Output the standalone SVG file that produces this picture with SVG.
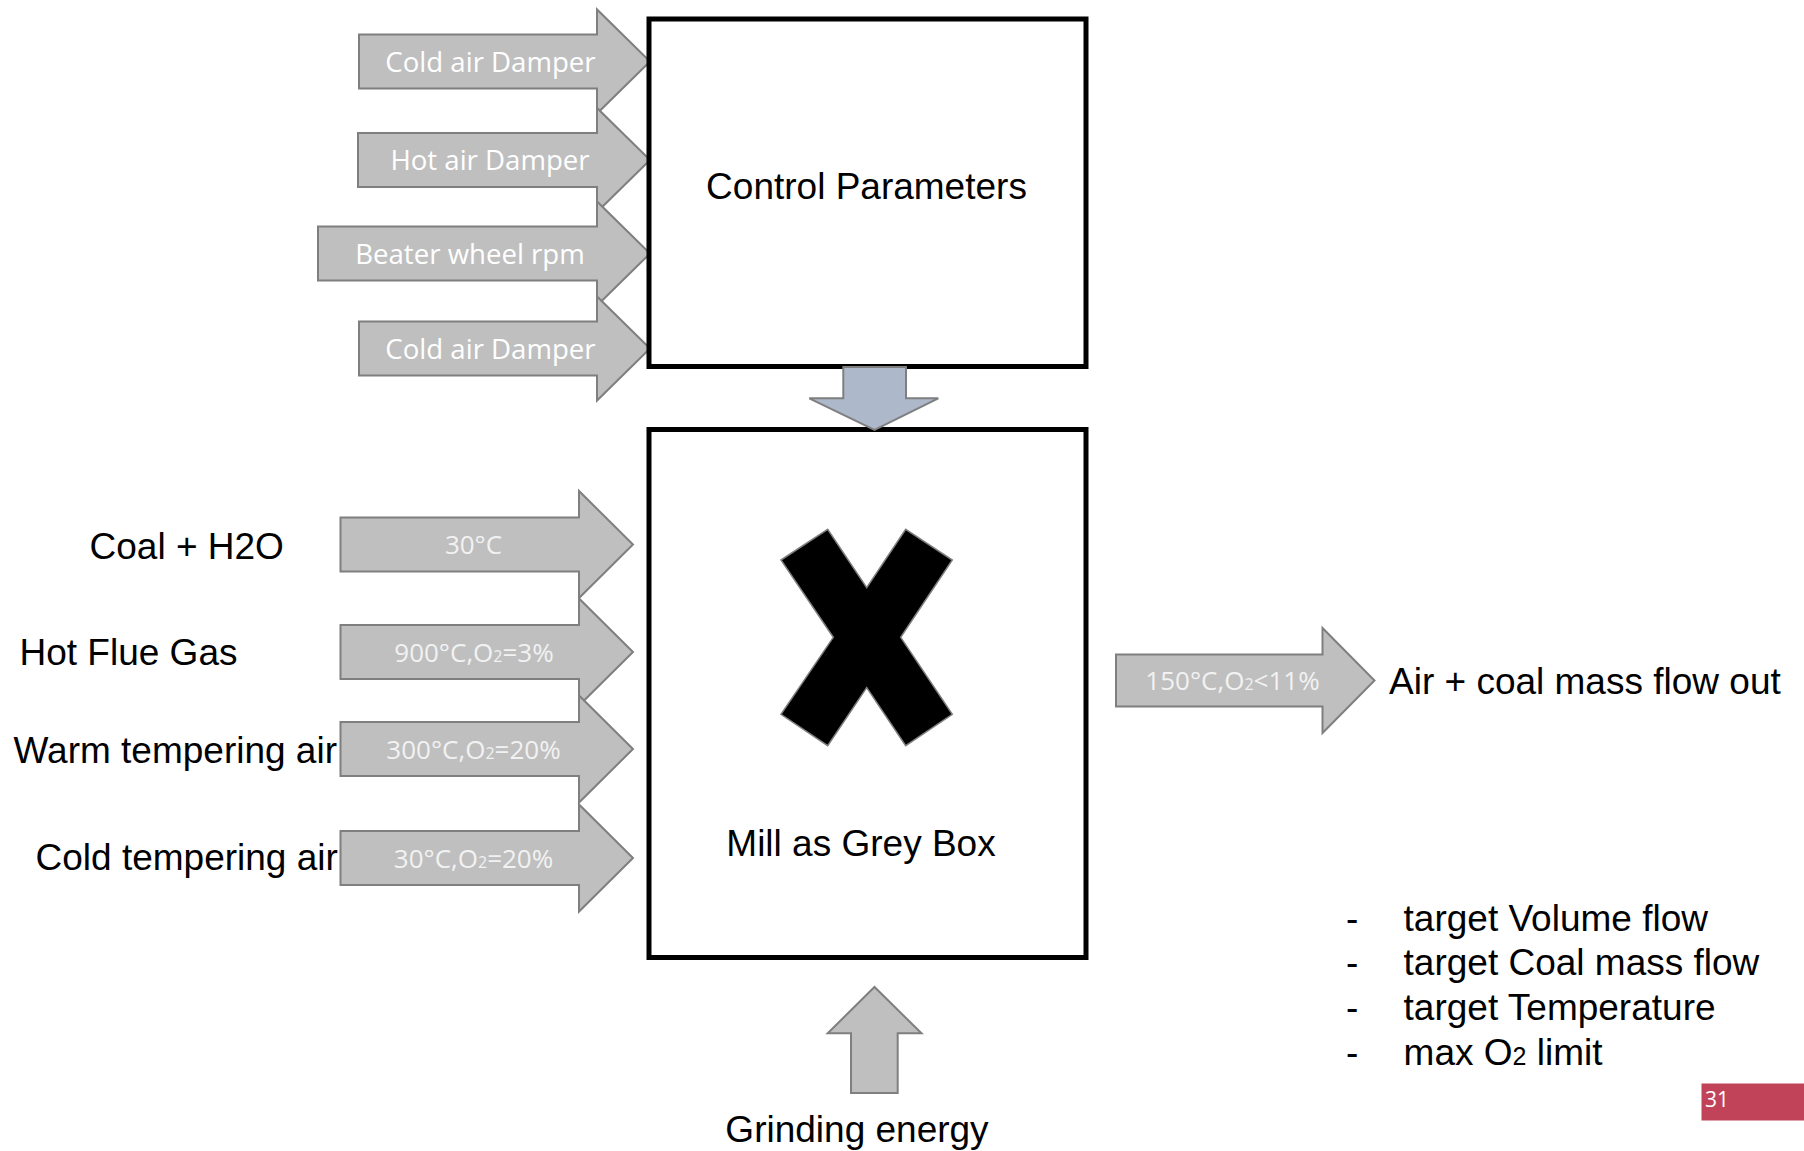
<svg xmlns="http://www.w3.org/2000/svg" width="1804" height="1151" viewBox="0 0 1804 1151">
  <style>
    .box { fill: #ffffff; stroke: #000000; stroke-width: 5; }
    .flow { fill: #bfbfbf; stroke: #7f7f7f; stroke-width: 2; stroke-linejoin: miter; }
    .link { fill: #adb9ca; stroke: #7f7f7f; stroke-width: 2; }
    .lbl { font-family: "Liberation Sans", Arial, sans-serif; font-size: 37px; fill: #000000; }
    .ctl { font-family: "Open Sans", "Liberation Sans", sans-serif; font-size: 27.6px; fill: #ffffff; text-anchor: middle; }
    .tmp { font-family: "Open Sans", "Liberation Sans", sans-serif; font-size: 26px; fill: #f2f2f2; text-anchor: middle; }
    .sub { font-size: 16px; }
    .mid { text-anchor: middle; }
  </style>

  <rect width="1804" height="1151" fill="#ffffff"/>

  <!-- control inputs feeding the parameter block -->
  <g id="in-cold-air-damper-1">
    <polygon class="flow" points="359,34.5 597,34.5 597,9.5 650,61.5 597,113.5 597,88.5 359,88.5"/>
    <text class="ctl" x="490.5" y="71.5">Cold air Damper</text>
  </g>
  <g id="in-hot-air-damper">
    <polygon class="flow" points="358,133 597,133 597,108 650,160 597,212 597,187 358,187"/>
    <text class="ctl" x="490" y="170">Hot air Damper</text>
  </g>
  <g id="in-beater-wheel">
    <polygon class="flow" points="318,226.5 597,226.5 597,201.5 650,253.5 597,305.5 597,280.5 318,280.5"/>
    <text class="ctl" x="470" y="263.5">Beater wheel rpm</text>
  </g>
  <g id="in-cold-air-damper-2">
    <polygon class="flow" points="359,321.5 597,321.5 597,296.5 650,348.5 597,400.5 597,375.5 359,375.5"/>
    <text class="ctl" x="490.5" y="358.5">Cold air Damper</text>
  </g>

  <!-- control parameter block -->
  <g id="control-parameters">
    <rect class="box" x="649" y="19" width="437" height="347.5"/>
    <text class="lbl mid" x="866.5" y="199">Control Parameters</text>
  </g>

  <!-- mill block -->
  <g id="mill">
    <rect class="box" x="649" y="429.5" width="437" height="528"/>
    <polygon fill="#000000" stroke="#7f7f7f" stroke-width="1.5"
      points="781,560 827.7,529.3 866.7,587.7 905.7,529.3 952.3,560 900.7,637.3 952.3,714.3 905.7,745.7 866.7,687.7 827.7,745.7 781,714.3 833.3,637.3"/>
    <text class="lbl mid" x="861" y="856">Mill as Grey Box</text>
  </g>

  <!-- material flows into the mill -->
  <g id="in-coal">
    <text class="lbl" x="89.5" y="559">Coal + H2O</text>
    <polygon class="flow" points="340.5,517.5 579,517.5 579,491 633,544.5 579,598 579,571.5 340.5,571.5"/>
    <text class="tmp" x="473.5" y="554">30°C</text>
  </g>
  <g id="in-flue-gas">
    <text class="lbl" x="19.5" y="665">Hot Flue Gas</text>
    <polygon class="flow" points="340.5,625 579,625 579,598.5 633,652 579,705.5 579,679 340.5,679"/>
    <text class="tmp" x="474" y="661.7">900°C,O<tspan class="sub">2</tspan>=3%</text>
  </g>
  <g id="in-warm-air">
    <text class="lbl" x="13.5" y="763">Warm tempering air</text>
    <polygon class="flow" points="340.5,722 579,722 579,695.5 633,749 579,802.5 579,776 340.5,776"/>
    <text class="tmp" x="473.5" y="758.7">300°C,O<tspan class="sub">2</tspan>=20%</text>
  </g>
  <g id="in-cold-air">
    <text class="lbl" x="35.5" y="870">Cold tempering air</text>
    <polygon class="flow" points="340.5,831 579,831 579,804.5 633,858 579,911.5 579,885 340.5,885"/>
    <text class="tmp" x="473.5" y="867.7">30°C,O<tspan class="sub">2</tspan>=20%</text>
  </g>

  <!-- mill output -->
  <g id="out-flow">
    <polygon class="flow" points="1116,654.5 1322.5,654.5 1322.5,628 1374.5,680.5 1322.5,733 1322.5,706.5 1116,706.5"/>
    <text class="tmp" x="1232.5" y="690.2">150°C,O<tspan class="sub">2</tspan>&lt;11%</text>
    <text class="lbl" x="1389" y="694">Air + coal mass flow out</text>
  </g>

  <!-- grinding energy input -->
  <g id="in-grinding">
    <polygon class="flow" points="851,1093 851,1033.3 827.7,1033.3 874.5,987 921.5,1033.3 897.7,1033.3 897.7,1093"/>
    <text class="lbl mid" x="857" y="1141.7">Grinding energy</text>
  </g>

  <!-- connector between the two blocks -->
  <g id="connectors">
    <polygon class="link" points="843.3,367 906,367 906,398.3 938.3,398.3 874.5,430 809.3,398.3 843.3,398.3"/>
  </g>

  <!-- targets -->
  <g id="targets" class="lbl">
    <text x="1346" y="930.5">-</text><text x="1403.6" y="930.5">target Volume flow</text>
    <text x="1346" y="975">-</text><text x="1403.6" y="975">target Coal mass flow</text>
    <text x="1346" y="1020">-</text><text x="1403.6" y="1020">target Temperature</text>
    <text x="1346" y="1064.5">-</text><text x="1403.6" y="1064.5">max O<tspan font-size="25px">2</tspan> limit</text>
  </g>

  <!-- page number -->
  <g id="page-number">
    <rect x="1701.5" y="1083.5" width="102.5" height="37" fill="#c0435a"/>
    <text x="1705" y="1106.7" font-family="Open Sans, sans-serif" font-size="21px" fill="#ffffff">31</text>
  </g>
</svg>
